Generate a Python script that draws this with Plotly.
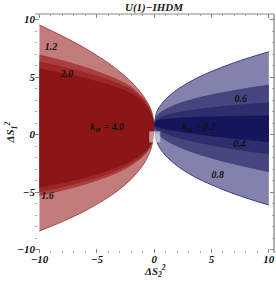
import plotly.graph_objects as go

# ---------------- data ----------------
x_red = [-10, -8, -6, -4, -3, -2, -1, -0.5, -0.2, 0]
red_levels = ["1.2", "1.6", "2.0", "4.0"]
red_top = {
    "1.2": [9.52, 8.56, 7.49, 6.22, 5.46, 4.58, 3.43, 2.64, 1.94, 0.8],
    "1.6": [6.91, 6.42, 5.83, 5.11, 4.67, 4.12, 3.20, 2.50, 1.80, 0.8],
    "2.0": [6.28, 5.86, 5.36, 4.74, 4.35, 3.87, 3.05, 2.35, 1.70, 0.8],
    "4.0": [5.70, 5.32, 4.88, 4.32, 3.98, 3.54, 2.85, 2.20, 1.55, 0.8],
}
red_bot = {
    "1.2": [-8.39, -7.57, -6.62, -5.46, -4.74, -3.88, -2.69, -1.81, -0.97, 0.8],
    "1.6": [-5.30, -4.84, -4.30, -3.63, -3.20, -2.67, -1.92, -1.34, -0.75, 0.8],
    "2.0": [-4.97, -4.54, -4.02, -3.39, -2.99, -2.48, -1.78, -1.22, -0.67, 0.8],
    "4.0": [-4.60, -4.20, -3.71, -3.12, -2.74, -2.27, -1.61, -1.09, -0.57, 0.8],
}

x_blue = [0, 0.2, 0.5, 1, 2, 3, 4, 6, 8, 10]
blue_levels = ["0.8", "0.6", "0.4", "0.2"]
blue_top = {
    "0.8": [0.8, 1.90, 2.46, 3.07, 3.90, 4.52, 5.04, 5.89, 6.59, 7.20],
    "0.6": [0.8, 1.53, 1.86, 2.19, 2.64, 2.96, 3.23, 3.65, 4.00, 4.30],
    "0.4": [0.8, 1.26, 1.45, 1.64, 1.89, 2.06, 2.20, 2.43, 2.61, 2.77],
    "0.2": [0.8, 1.18, 1.26, 1.33, 1.41, 1.46, 1.50, 1.56, 1.60, 1.64],
}
blue_bot = {
    "0.8": [0.8, -0.54, -1.17, -1.84, -2.72, -3.38, -3.92, -4.79, -5.51, -6.13],
    "0.6": [0.8, 0.23, -0.10, -0.47, -1.00, -1.41, -1.75, -2.32, -2.80, -3.23],
    "0.4": [0.8, 0.51, 0.32, 0.10, -0.23, -0.49, -0.71, -1.09, -1.41, -1.70],
    "0.2": [0.8, 0.69, 0.60, 0.48, 0.30, 0.15, 0.01, -0.23, -0.44, -0.63],
}

label_text = ["1.2", "2.0", "1.6", "k<sub>H</sub> = 4.0", "k<sub>H</sub> = 0.2", "0.6", "0.4", "0.8"]
label_x = [-9.0, -7.6, -9.3, -4.1, 3.9, 7.55, 7.45, 5.55]
label_y = [7.6, 5.25, -5.35, 0.62, 0.62, 3.05, -0.9, -3.55]

sm_x = [0.05]
sm_y = [-0.2]

x_ticks = [-10, -5, 0, 5, 10]
y_ticks = [-10, -5, 0, 5, 10]

# ---------------- styles ----------------
red_fill = {"1.2": "#C27B7B", "1.6": "#AC3E3E", "2.0": "#9C2828", "4.0": "#8C1616"}
red_line = {"1.2": "#A84848", "1.6": "#9A3030", "2.0": "#8E2020", "4.0": "#801212"}
blue_fill = {"0.8": "#8282AC", "0.6": "#46467E", "0.4": "#2E2E6E", "0.2": "#15155C"}
blue_line = {"0.8": "#3C3C8C", "0.6": "#3A3A78", "0.4": "#262668", "0.2": "#121258"}

serif = "Liberation Serif"

fig = go.Figure()


def add_band(xs, top, bot, fill, line, width):
    fig.add_trace(go.Scatter(
        x=xs, y=bot, mode="lines",
        line=dict(color=line, width=width, shape="spline", smoothing=0.8),
        hoverinfo="skip", showlegend=False))
    fig.add_trace(go.Scatter(
        x=xs, y=top, mode="lines", fill="tonexty", fillcolor=fill,
        line=dict(color=line, width=width, shape="spline", smoothing=0.8),
        hoverinfo="skip", showlegend=False))


for i, lv in enumerate(red_levels):
    add_band(x_red, red_top[lv], red_bot[lv], red_fill[lv], red_line[lv], 1.0 if i == 0 else 0.6)
for i, lv in enumerate(blue_levels):
    add_band(x_blue, blue_top[lv], blue_bot[lv], blue_fill[lv], blue_line[lv], 1.0 if i == 0 else 0.6)

fig.add_trace(go.Scatter(
    x=sm_x, y=sm_y, mode="markers",
    marker=dict(symbol="square", size=11, color="rgba(235,235,235,0.6)", line=dict(width=0)),
    hoverinfo="skip", showlegend=False))

fig.add_trace(go.Scatter(
    x=label_x, y=label_y, mode="text", text=label_text,
    textfont=dict(family=serif, size=10, color="#111", style="italic", weight="bold"),
    hoverinfo="skip", showlegend=False))

tickfont = dict(family=serif, size=11, color="#111", style="italic", weight="bold")
titlefont = dict(family=serif, size=11, color="#222", style="italic", weight="bold")

fig.update_layout(
    width=276, height=282,
    margin=dict(l=35, r=2, t=14, b=29, autoexpand=False),
    paper_bgcolor="white", plot_bgcolor="white",
    title=dict(text="U(1)−IHDM", x=0.558, xanchor="center", y=0.975, yanchor="middle",
               font=titlefont),
    xaxis=dict(range=[-10.39, 10.45], tickvals=x_ticks, showgrid=False, zeroline=False,
               showline=False, ticks="inside", ticklen=4, tickcolor="#888", mirror="ticks",
               minor=dict(dtick=1, ticks="inside", ticklen=2, tickcolor="#aaa"),
               tickfont=tickfont, automargin=False, ticklabelstandoff=-2),
    yaxis=dict(range=[-10.30, 10.48], tickvals=y_ticks, showgrid=False, zeroline=False,
               showline=False, ticks="inside", ticklen=4, tickcolor="#888", mirror="ticks",
               minor=dict(dtick=1, ticks="inside", ticklen=2, tickcolor="#aaa"),
               tickfont=tickfont, automargin=False, ticklabelstandoff=-1),
    annotations=[
        dict(text="ΔS<sub>2</sub><sup>2</sup>", xref="paper", yref="paper",
             x=0.5, y=-0.075, xanchor="center", yanchor="middle", showarrow=False,
             font=titlefont),
        dict(text="ΔS<sub>1</sub><sup>2</sup>", xref="paper", yref="paper",
             x=-0.1, y=0.505, xanchor="center", yanchor="middle", showarrow=False,
             textangle=-90, font=titlefont),
    ],
    shapes=[
        dict(type="line", xref="paper", yref="paper", x0=0, x1=1, y0=1, y1=1,
             line=dict(color="#888", width=1)),
        dict(type="line", xref="paper", yref="paper", x0=1, x1=1, y0=0, y1=1,
             line=dict(color="#666", width=1)),
    ],
)

fig.write_html("out.html",
               config={"displayModeBar": False},
               post_script="document.body.style.margin='0px';document.body.style.overflow='hidden';")
